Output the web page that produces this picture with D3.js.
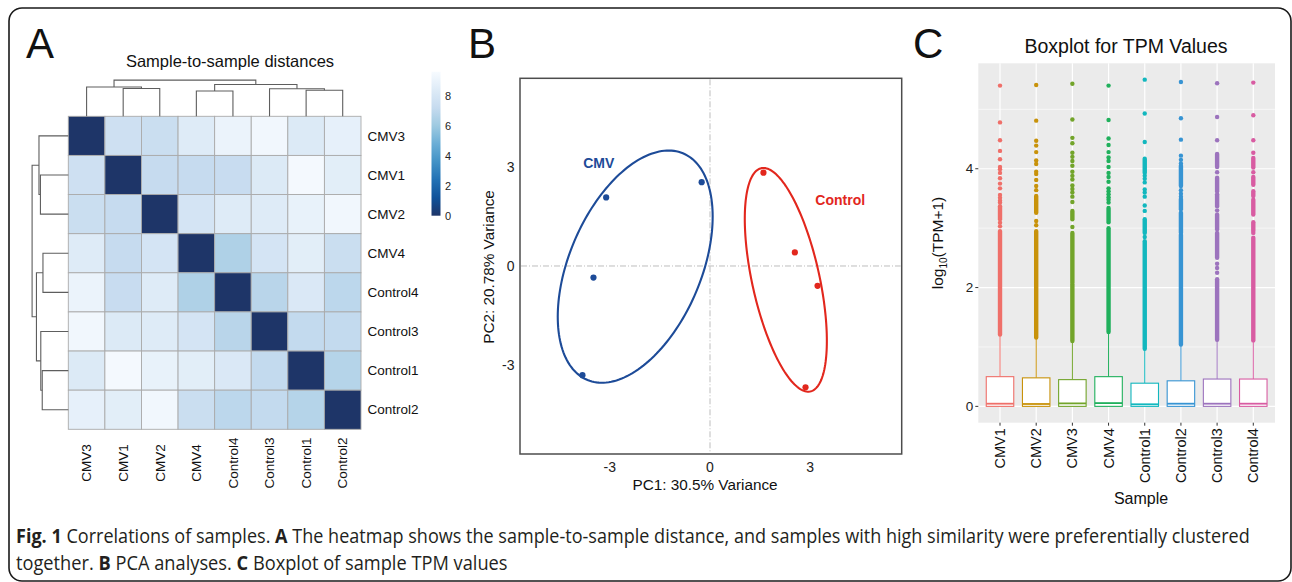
<!DOCTYPE html>
<html>
<head>
<meta charset="utf-8">
<script src="https://cdn.jsdelivr.net/npm/d3@7/dist/d3.min.js"></script>
<style>
  body { margin: 0; background: #fff; }
  svg { display: block; }
  text { font-family: "Liberation Sans", Arial, sans-serif; }
</style>
</head>
<body>
<script>
// ---------- A: sample-to-sample distances ----------
const heatSamples = ["CMV3", "CMV1", "CMV2", "CMV4", "Control4", "Control3", "Control1", "Control2"];
const distRows = [
  [0, 7.6, 7.4, 8.4, 9.0, 9.3, 8.3, 8.8],
  [7.6, 0, 7.2, 7.2, 7.3, 8.3, 9.45, 8.6],
  [7.4, 7.2, 0, 7.9, 8.4, 8.4, 8.9, 9.3],
  [8.4, 7.2, 7.9, 0, 6.5, 7.9, 8.6, 7.4],
  [9.0, 7.3, 8.4, 6.5, 0, 6.8, 8.2, 6.9],
  [9.3, 8.3, 8.4, 7.9, 6.8, 0, 7.1, 7.1],
  [8.3, 9.45, 8.9, 8.6, 8.2, 7.1, 0, 6.7],
  [8.8, 8.6, 9.3, 7.4, 6.9, 7.1, 6.7, 0]
];
// merge heights of the clustering tree
const sampleTree = {h: 10, children: [
  {h: 8.1, children: [{name: "CMV3"}, {h: 7.7, children: [{name: "CMV1"}, {name: "CMV2"}]}]},
  {h: 8.8, children: [
    {h: 7.0, children: [{name: "CMV4"}, {name: "Control4"}]},
    {h: 7.6, children: [{name: "Control3"}, {h: 7.2, children: [{name: "Control1"}, {name: "Control2"}]}]}
  ]}
]};
const legendTicks = [0, 2, 4, 6, 8];
const legendMax = 9.6;

// ---------- B: PCA ----------
const pcaCMV = [[-3.11, 2.08], [-0.25, 2.54], [-3.49, -0.35], [-3.82, -3.31]];
const pcaControl = [[1.6, 2.83], [2.54, 0.41], [3.22, -0.6], [2.86, -3.68]];
// ellipse centre and shape matrix (data units)
const ellipseCMV = {cx: -2.24, cy: -0.02, sxx: 5.38, sxy: 3.52, syy: 12.39};
const ellipseControl = {cx: 2.27, cy: -0.42, sxx: 1.51, sxy: -2.27, syy: 11.5};
const pcaTicks = [-3, 0, 3];

// ---------- C: TPM boxplots ----------
const boxSamples = ["CMV1", "CMV2", "CMV3", "CMV4", "Control1", "Control2", "Control3", "Control4"];
const boxColors = ["#ef6f69", "#c8920a", "#72a42a", "#20b05c", "#12b7be", "#3794d3", "#9c73bd", "#d85ca2"];
const boxQ3 = [0.50, 0.48, 0.45, 0.50, 0.39, 0.43, 0.46, 0.46];
const boxMedian = [0.045, 0.04, 0.05, 0.055, 0.035, 0.045, 0.045, 0.045];
const whiskerTop = [1.21, 1.16, 1.10, 1.25, 0.97, 1.04, 1.12, 1.11];
// stretches where outlier dots overlap into a solid column
const outlierRuns = [
  [[1.21, 2.95], [3.15, 3.37]],
  [[1.16, 2.95], [3.26, 3.54]],
  [[1.10, 2.05], [2.08, 2.92], [3.15, 3.29]],
  [[1.25, 3.0], [3.1, 3.34]],
  [[0.97, 2.78], [2.92, 3.15], [3.93, 4.17]],
  [[1.04, 2.89], [2.92, 3.26], [3.32, 3.49], [3.71, 4.05]],
  [[1.12, 2.14], [2.5, 2.92], [2.98, 3.23], [3.37, 3.57], [3.62, 3.85], [4.03, 4.25]],
  [[1.11, 2.84], [2.95, 3.1], [3.23, 3.48], [3.54, 3.62], [3.73, 3.86], [4.02, 4.18]]
];
const outlierDots = [
  [3.03, 3.09, 3.43, 3.46, 3.51, 3.56, 3.67, 3.75, 3.84, 3.93, 3.99, 4.03, 4.16, 4.30, 4.48, 4.78, 5.40],
  [3.05, 3.12, 3.64, 3.71, 3.81, 3.91, 3.95, 4.08, 4.14, 4.28, 4.39, 4.47, 4.81, 5.41],
  [3.02, 3.44, 3.53, 3.60, 3.66, 3.72, 3.82, 3.88, 3.95, 4.05, 4.13, 4.20, 4.27, 4.43, 4.52, 4.83, 5.43],
  [3.43, 3.48, 3.52, 3.57, 3.62, 3.67, 3.78, 3.86, 3.93, 4.03, 4.13, 4.19, 4.28, 4.40, 4.51, 4.82, 5.40],
  [2.85, 3.29, 3.38, 3.53, 3.60, 3.65, 3.77, 3.83, 3.88, 4.45, 4.93, 5.50],
  [3.53, 3.58, 3.64, 4.09, 4.15, 4.22, 4.49, 4.85, 5.46],
  [2.25, 2.33, 2.40, 3.30, 3.94, 4.48, 4.87, 5.44],
  [2.92, 3.94, 4.27, 4.48, 4.90, 5.45]
];
const boxTicks = [0, 2, 4];
const boxMinor = [1, 3, 5];

const W = 1292, H = 582;
const svg = d3.select("body").append("svg").attr("width", W).attr("height", H);

// outer rounded frame
svg.append("rect")
  .attr("x", 9).attr("y", 8).attr("width", 1282).attr("height", 573).attr("rx", 13)
  .attr("fill", "none").attr("stroke", "#1a1a1a").attr("stroke-width", 1.6);

const panelLetter = (x, t) => svg.append("text").attr("x", x).attr("y", 57.5)
  .attr("font-size", 42).attr("fill", "#111").text(t);
panelLetter(26, "A");
panelLetter(468, "B");
panelLetter(913, "C");

// ================= A =================
const hm = {left: 68.3, right: 361, top: 116.3, bottom: 429.3};
const hx = d3.scaleBand().domain(heatSamples).range([hm.left, hm.right]);
const hy = d3.scaleBand().domain(heatSamples).range([hm.top, hm.bottom]);
const blues = ["#1e3568", "#0f529a", "#2171b5", "#4292c6", "#6baed6", "#9ecae1", "#c6dbef", "#deebf7", "#f7fbff"];
const heatColor = d3.scaleLinear()
  .domain(d3.range(blues.length).map(i => i * legendMax / (blues.length - 1)))
  .range(blues).clamp(true);

svg.append("text").attr("x", 230).attr("y", 67).attr("text-anchor", "middle")
  .attr("font-size", 16.5).attr("fill", "#111").text("Sample-to-sample distances");

const cells = [];
distRows.forEach((row, i) => row.forEach((v, j) => cells.push({r: heatSamples[i], c: heatSamples[j], v})));
svg.append("g").selectAll("rect").data(cells).join("rect")
  .attr("x", d => hx(d.c)).attr("y", d => hy(d.r))
  .attr("width", hx.bandwidth()).attr("height", hy.bandwidth())
  .attr("fill", d => heatColor(d.v))
  .attr("stroke", "#aaaaaa").attr("stroke-width", 0.9);

// dendrograms
const root = d3.hierarchy(sampleTree);
root.eachAfter(n => {
  if (!n.children) { n.h = 0; n.key = n.data.name; }
  else { n.h = n.data.h; }
});
const dendroScale = d3.scaleLinear().domain([0, sampleTree.h]).range([0, 36.2]);
function dendroNodes(posOf) {
  const nodes = [];
  root.eachAfter(n => {
    n.pos = n.children ? d3.mean(n.children, c => c.pos) : posOf(n.key);
    if (n.children) nodes.push({h: n.h, a: {h: n.children[0].h, pos: n.children[0].pos}, b: {h: n.children[1].h, pos: n.children[1].pos}});
  });
  return nodes;
}
const topNodes = dendroNodes(k => hx(k) + hx.bandwidth() / 2);
svg.append("g").selectAll("path").data(topNodes).join("path")
  .attr("fill", "none").attr("stroke", "#5e5e5e").attr("stroke-width", 1.1)
  .attr("d", n => {
    const y = h => hm.top - dendroScale(h);
    return `M${n.a.pos},${y(n.a.h)}V${y(n.h)}H${n.b.pos}V${y(n.b.h)}`;
  });
const leftNodes = dendroNodes(k => hy(k) + hy.bandwidth() / 2);
svg.append("g").selectAll("path").data(leftNodes).join("path")
  .attr("fill", "none").attr("stroke", "#5e5e5e").attr("stroke-width", 1.1)
  .attr("d", n => {
    const x = h => hm.left - dendroScale(h);
    return `M${x(n.a.h)},${n.a.pos}H${x(n.h)}V${n.b.pos}H${x(n.b.h)}`;
  });

// labels
svg.append("g").selectAll("text").data(heatSamples).join("text")
  .attr("x", hm.right + 6.5).attr("y", d => hy(d) + hy.bandwidth() / 2).attr("dy", "0.35em")
  .attr("font-size", 13.5).attr("fill", "#111").text(d => d);
svg.append("g").selectAll("text").data(heatSamples).join("text")
  .attr("transform", d => `translate(${hx(d) + hx.bandwidth() / 2},463) rotate(-90)`)
  .attr("text-anchor", "middle").attr("dy", "0.35em")
  .attr("font-size", 13.5).attr("fill", "#111").text(d => d);

// colour legend
const lg = {x: 431.5, w: 9, top: 71.7, bottom: 215.7};
const ly = d3.scaleLinear().domain([0, legendMax]).range([lg.bottom, lg.top]);
const grad = svg.append("defs").append("linearGradient").attr("id", "lgGrad")
  .attr("x1", 0).attr("y1", 1).attr("x2", 0).attr("y2", 0);
grad.selectAll("stop").data(blues).join("stop")
  .attr("offset", (d, i) => i / (blues.length - 1)).attr("stop-color", d => d);
svg.append("rect").attr("x", lg.x).attr("y", lg.top).attr("width", lg.w)
  .attr("height", lg.bottom - lg.top).attr("fill", "url(#lgGrad)");
svg.append("g").selectAll("text").data(legendTicks).join("text")
  .attr("x", lg.x + 13.5).attr("y", d => ly(d)).attr("dy", "0.35em")
  .attr("font-size", 11).attr("fill", "#222").text(d => d);

// ================= B =================
const pc = {left: 520, right: 901.7, top: 78.3, bottom: 454};
const px = d3.scaleLinear().domain([-5.69, 5.74]).range([pc.left, pc.right]);
const py = d3.scaleLinear().domain([-5.70, 5.69]).range([pc.bottom, pc.top]);

svg.append("rect").attr("x", pc.left).attr("y", pc.top)
  .attr("width", pc.right - pc.left).attr("height", pc.bottom - pc.top)
  .attr("fill", "#fff").attr("stroke", "#4d4d4d").attr("stroke-width", 1.5);
svg.append("line").attr("x1", px(0)).attr("x2", px(0)).attr("y1", pc.top + 1).attr("y2", pc.bottom - 1)
  .attr("stroke", "#bdbdbd").attr("stroke-dasharray", "6,2,1,2");
svg.append("line").attr("y1", py(0)).attr("y2", py(0)).attr("x1", pc.left + 1).attr("x2", pc.right - 1)
  .attr("stroke", "#bdbdbd").attr("stroke-dasharray", "6,2,1,2");

function ellipsePoints(e) {
  const l11 = Math.sqrt(e.sxx), l21 = e.sxy / l11, l22 = Math.sqrt(e.syy - l21 * l21);
  return d3.range(0, 2 * Math.PI + 0.001, Math.PI / 90).map(t =>
    [e.cx + l11 * Math.cos(t), e.cy + l21 * Math.cos(t) + l22 * Math.sin(t)]);
}
const ellLine = d3.line().x(d => px(d[0])).y(d => py(d[1])).curve(d3.curveLinearClosed);
const groups = [
  {pts: pcaCMV, ell: ellipseCMV, color: "#1d4b98", label: "CMV", lx: -3.33, ly: 3.12},
  {pts: pcaControl, ell: ellipseControl, color: "#e2271d", label: "Control", lx: 3.9, ly: 1.99}
];
groups.forEach(g => {
  svg.append("path").attr("d", ellLine(ellipsePoints(g.ell)))
    .attr("fill", "none").attr("stroke", g.color).attr("stroke-width", 2.1);
  svg.append("g").selectAll("circle").data(g.pts).join("circle")
    .attr("cx", d => px(d[0])).attr("cy", d => py(d[1])).attr("r", 3.1).attr("fill", g.color);
  svg.append("text").attr("x", px(g.lx)).attr("y", py(g.ly)).attr("dy", "0.35em")
    .attr("text-anchor", "middle").attr("font-size", 14).attr("font-weight", "bold")
    .attr("fill", g.color).text(g.label);
});
svg.append("g").selectAll("text").data(pcaTicks).join("text")
  .attr("x", d => px(d)).attr("y", 471.5).attr("text-anchor", "middle")
  .attr("font-size", 14).attr("fill", "#222").text(d => d);
svg.append("g").selectAll("text").data(pcaTicks).join("text")
  .attr("x", 514.5).attr("y", d => py(d)).attr("dy", "0.35em").attr("text-anchor", "end")
  .attr("font-size", 14).attr("fill", "#222").text(d => d);
svg.append("text").attr("x", 705).attr("y", 489.5).attr("text-anchor", "middle")
  .attr("font-size", 15.3).attr("fill", "#111").text("PC1: 30.5% Variance");
svg.append("text").attr("transform", "translate(489,267) rotate(-90)").attr("dy", "0.35em")
  .attr("text-anchor", "middle").attr("font-size", 15.3).attr("fill", "#111").text("PC2: 20.78% Variance");

// ================= C =================
const bp = {left: 978.3, right: 1275, top: 63.3, bottom: 422.7};
const bx = d3.scalePoint().domain(boxSamples).range([bp.left, bp.right]).padding(0.6);
const by = d3.scaleLinear().domain([-0.275, 5.775]).range([bp.bottom, bp.top]);
const boxW = bx.step() * 0.76;

svg.append("text").attr("x", 1126).attr("y", 53.3).attr("text-anchor", "middle")
  .attr("font-size", 19.5).attr("fill", "#111").text("Boxplot for TPM Values");

svg.append("rect").attr("x", bp.left).attr("y", bp.top)
  .attr("width", bp.right - bp.left).attr("height", bp.bottom - bp.top).attr("fill", "#ebebeb");
svg.append("g").selectAll("line").data(boxMinor).join("line")
  .attr("x1", bp.left).attr("x2", bp.right).attr("y1", d => by(d)).attr("y2", d => by(d))
  .attr("stroke", "#fff").attr("stroke-width", 0.6);
svg.append("g").selectAll("line").data(boxTicks).join("line")
  .attr("x1", bp.left).attr("x2", bp.right).attr("y1", d => by(d)).attr("y2", d => by(d))
  .attr("stroke", "#fff").attr("stroke-width", 1.2);
svg.append("g").selectAll("line").data(boxSamples).join("line")
  .attr("x1", d => bx(d)).attr("x2", d => bx(d)).attr("y1", bp.top).attr("y2", bp.bottom)
  .attr("stroke", "#fff").attr("stroke-width", 1.2);

boxSamples.forEach((s, i) => {
  const g = svg.append("g").attr("stroke", boxColors[i]).attr("fill", boxColors[i]);
  const x = bx(s);
  g.selectAll("line.run").data(outlierRuns[i]).join("line").attr("class", "run")
    .attr("x1", x).attr("x2", x).attr("y1", d => by(d[0])).attr("y2", d => by(d[1]))
    .attr("stroke-width", 4.4).attr("stroke-linecap", "round");
  g.selectAll("circle").data(outlierDots[i]).join("circle")
    .attr("cx", x).attr("cy", d => by(d)).attr("r", 2.2).attr("stroke", "none");
  g.append("line").attr("x1", x).attr("x2", x).attr("y1", by(boxQ3[i])).attr("y2", by(whiskerTop[i]))
    .attr("stroke-width", 1);
  g.append("rect").attr("x", x - boxW / 2).attr("y", by(boxQ3[i]))
    .attr("width", boxW).attr("height", by(0) - by(boxQ3[i]))
    .attr("fill", "#fff").attr("stroke-width", 1.1);
  g.append("line").attr("x1", x - boxW / 2).attr("x2", x + boxW / 2)
    .attr("y1", by(boxMedian[i])).attr("y2", by(boxMedian[i])).attr("stroke-width", 1.8);
});

// axes
svg.append("g").selectAll("line").data(boxTicks).join("line")
  .attr("x1", bp.left - 3).attr("x2", bp.left).attr("y1", d => by(d)).attr("y2", d => by(d))
  .attr("stroke", "#333").attr("stroke-width", 1);
svg.append("g").selectAll("text").data(boxTicks).join("text")
  .attr("x", bp.left - 5).attr("y", d => by(d)).attr("dy", "0.35em").attr("text-anchor", "end")
  .attr("font-size", 13.5).attr("fill", "#222").text(d => d);
svg.append("g").selectAll("line").data(boxSamples).join("line")
  .attr("x1", d => bx(d)).attr("x2", d => bx(d)).attr("y1", bp.bottom).attr("y2", bp.bottom + 3)
  .attr("stroke", "#333").attr("stroke-width", 1);
svg.append("g").selectAll("text").data(boxSamples).join("text")
  .attr("transform", d => `translate(${bx(d)},${bp.bottom + 5.5}) rotate(-90)`)
  .attr("dy", "0.35em").attr("text-anchor", "end")
  .attr("font-size", 14.5).attr("fill", "#111").text(d => d);
svg.append("text").attr("x", 1141).attr("y", 503.5).attr("text-anchor", "middle")
  .attr("font-size", 16).attr("fill", "#111").text("Sample");
const yt = svg.append("text").attr("transform", "translate(943,243) rotate(-90)")
  .attr("text-anchor", "middle").attr("font-size", 15.5).attr("fill", "#111");
yt.append("tspan").text("log");
yt.append("tspan").attr("font-size", 10).attr("dy", 4).text("10");
yt.append("tspan").attr("dy", -4).text("(TPM+1)");

// ================= caption =================
// condensed look: natural text squeezed horizontally to the reference width
const captionLines = [
  {y: 543, len: 1234, parts: [["Fig. 1", true], [" Correlations of samples. ", false], ["A", true],
    [" The heatmap shows the sample-to-sample distance, and samples with high similarity were preferentially clustered", false]]},
  {y: 570, len: 492, parts: [["together. ", false], ["B", true], [" PCA analyses. ", false], ["C", true],
    [" Boxplot of sample TPM values", false]]}
];
captionLines.forEach(l => {
  const t = svg.append("text").attr("x", 0).attr("y", 0)
    .attr("font-size", 20).attr("fill", "#231f20")
    .style("font-family", "'Open Sans', 'Noto Sans', sans-serif");
  l.parts.forEach(p => t.append("tspan").attr("font-weight", p[1] ? "bold" : null).text(p[0]));
  const k = l.len / t.node().getComputedTextLength();
  t.attr("transform", `translate(16,${l.y}) scale(${k},1)`);
});
</script>
</body>
</html>
